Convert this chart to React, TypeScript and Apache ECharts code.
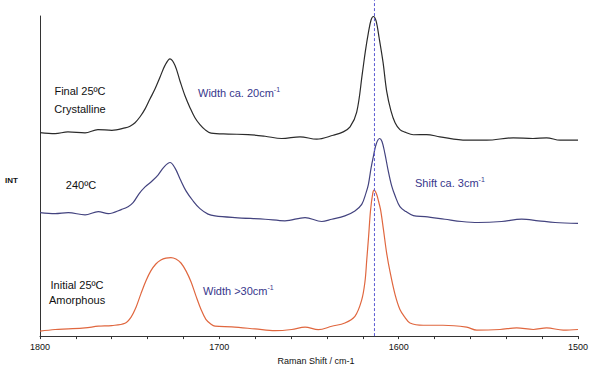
import React, { useEffect, useRef } from "react";
import * as echarts from "echarts";

// Raman shift (cm-1) and stacked intensity readings for each spectrum
const finalShift = [1800, 1791.6, 1784.4, 1774.9, 1767.7, 1759.9, 1752.6, 1749.8, 1747.0, 1744.2, 1741.4, 1738.7, 1735.9, 1733.1, 1730.3, 1727.5, 1724.7, 1721.9, 1719.1, 1716.3, 1713.6, 1710.8, 1708.0, 1704.6, 1695.0, 1684.0, 1674.5, 1665.2, 1655.0, 1645.7, 1636.5, 1630.9, 1627.1, 1623.4, 1620.2, 1618.6, 1616.9, 1615.4, 1614.1, 1612.6, 1610.9, 1608.7, 1606.7, 1604.3, 1602.0, 1599.3, 1596.5, 1591.8, 1584.4, 1577.0, 1562.1, 1550.9, 1536.1, 1525.1, 1517.5, 1510.0, 1500];
const finalInt = [206, 205, 206.7, 205.7, 209, 208.3, 210.7, 212.5, 216, 222, 230, 240, 250, 262, 274, 280.7, 274, 258, 243, 231, 221, 214, 209, 205.5, 204.5, 204, 202.3, 200, 201.7, 199.3, 203.3, 206.7, 211.7, 226.7, 266.7, 288, 307, 320, 323.5, 319, 302, 277, 248, 228, 216, 209, 206.5, 203.8, 204, 201.7, 198.3, 198.3, 200.7, 200, 200.7, 198.3, 198.3];

const hotShift = [1800, 1791.6, 1784.2, 1774.9, 1767.5, 1761.9, 1754.4, 1750.9, 1748.1, 1744.8, 1741.4, 1737.5, 1734.2, 1730.9, 1727.5, 1724.7, 1721.9, 1718.6, 1714.7, 1710.8, 1706.3, 1702.4, 1691.3, 1674.5, 1663.4, 1652.2, 1642.9, 1637.3, 1630.0, 1624.4, 1620.6, 1618.2, 1616.9, 1615.4, 1614.1, 1612.6, 1610.7, 1609.3, 1607.7, 1605.9, 1603.9, 1602.0, 1599.3, 1595.9, 1591.8, 1585.3, 1574.2, 1564.8, 1555.6, 1542.6, 1531.4, 1522.1, 1512.8, 1500];
const hotInt = [125, 124, 125, 122.7, 126, 124, 128.3, 131, 135, 144, 151, 157, 163, 171, 175.7, 170, 159, 147, 137, 129, 123.5, 121.7, 120, 118.3, 116.7, 120, 116, 118.3, 121.7, 126.7, 133.3, 145, 153.3, 170, 182, 194, 200, 197, 185, 168, 152, 142, 131, 126, 122, 121, 118.3, 116, 115, 116, 118.3, 116.7, 115, 114];

const initShift = [1800, 1791.6, 1784.2, 1774.9, 1767.5, 1760.0, 1752.6, 1749.3, 1746.5, 1743.7, 1740.9, 1738.2, 1735.4, 1732.6, 1729.8, 1727.0, 1724.2, 1721.4, 1718.6, 1715.8, 1713.1, 1710.2, 1707.5, 1704.6, 1702.4, 1693.1, 1680.1, 1668.9, 1659.6, 1652.2, 1644.8, 1637.3, 1630.0, 1624.4, 1620.6, 1618.8, 1617.8, 1616.8, 1615.7, 1614.5, 1613.7, 1612.4, 1611.3, 1610.1, 1608.5, 1606.7, 1604.8, 1602.0, 1599.3, 1596.5, 1593.7, 1586.3, 1575.3, 1562.1, 1556.5, 1543.5, 1534.2, 1524.9, 1517.5, 1508.2, 1500];
const initInt = [5, 6.7, 7.3, 8.3, 10, 10.7, 13, 19, 29, 43, 56, 66, 73, 77, 79, 79.5, 78, 74, 66, 55, 41, 27, 17, 12, 10, 9.3, 7.3, 5.5, 6.7, 9, 6.5, 10, 13.3, 20, 36.7, 55, 77, 100, 127, 144, 147.7, 144, 137, 128, 108, 84, 65, 42, 27, 19, 13.3, 11, 11, 9, 6, 6.7, 8.3, 6.7, 8.3, 6, 6.7];

const seriesNames = ["Final 25ºC Crystalline", "240ºC", "Initial 25ºC Amorphous"];
const referenceShift = 1613.5;
const referenceSpan = [0, 340];
const xTickLabels = [1800, 1700, 1600, 1500];

const FONT = "'Liberation Sans', Arial, sans-serif";
const BLUE_TEXT = "#37378c";

const zip = (xs: number[], ys: number[]) => xs.map((x, i) => [x, ys[i]]);

function supText(x: number, y: number, main: string, sup: string, color: string) {
  return {
    type: "text",
    x,
    y,
    style: {
      text: `{a|${main}}{s|${sup}}`,
      textAlign: "left",
      textVerticalAlign: "middle",
      rich: {
        a: { fontSize: 11, fontFamily: FONT, fill: color, lineHeight: 13, verticalAlign: "bottom" },
        s: { fontSize: 7, fontFamily: FONT, fill: color, lineHeight: 13, verticalAlign: "top" },
      },
    },
  };
}

function plainText(x: number, y: number, text: string) {
  return {
    type: "text",
    x,
    y,
    style: {
      text,
      fontSize: 11,
      fontFamily: FONT,
      fill: "#111111",
      textAlign: "center",
      textVerticalAlign: "middle",
    },
  };
}

export default function App() {
  const ref = useRef<HTMLDivElement>(null);
  useEffect(() => {
    if (!ref.current) return;
    const chart = echarts.init(ref.current, undefined, { renderer: "svg" });
    const lineCommon = {
      type: "line",
      showSymbol: false,
      smooth: 0.35,
    };
    chart.setOption({
      animation: false,
      backgroundColor: "#ffffff",
      grid: { left: 40, right: 22, top: 16, bottom: 30 },
      xAxis: {
        type: "value",
        inverse: true,
        min: 1500,
        max: 1800,
        interval: 20,
        name: "Raman Shift / cm-1",
        nameLocation: "middle",
        nameGap: 14,
        nameTextStyle: { fontSize: 9, fontFamily: FONT, color: "#111", padding: [0, 0, 0, 14] },
        axisLine: { lineStyle: { color: "#333", width: 1 } },
        axisTick: { show: true, length: 3, lineStyle: { color: "#333" } },
        splitLine: { show: false },
        axisLabel: {
          fontSize: 9,
          fontFamily: FONT,
          color: "#111",
          margin: 6,
          formatter: (v: number) => (xTickLabels.includes(v) ? String(v) : ""),
        },
      },
      yAxis: {
        type: "value",
        min: 0,
        max: 324,
        name: "INT",
        nameLocation: "middle",
        nameGap: 22,
        nameRotate: 0,
        nameTextStyle: { fontSize: 8, fontFamily: FONT, color: "#111", fontWeight: "bold", verticalAlign: "top" },
        axisLine: { show: true, lineStyle: { color: "#333", width: 1 } },
        axisTick: { show: false },
        axisLabel: { show: false },
        splitLine: { show: false },
      },
      series: [
        { ...lineCommon, name: seriesNames[0], data: zip(finalShift, finalInt), lineStyle: { color: "#2b2b2b", width: 1.2 } },
        { ...lineCommon, name: seriesNames[1], data: zip(hotShift, hotInt), lineStyle: { color: "#43437f", width: 1.2 } },
        { ...lineCommon, name: seriesNames[2], data: zip(initShift, initInt), lineStyle: { color: "#e0673f", width: 1.2 } },
        {
          type: "line",
          name: "reference",
          showSymbol: false,
          clip: false,
          data: referenceSpan.map((y) => [referenceShift, y]),
          lineStyle: { color: "#5a5ad2", width: 1, type: [3, 2] },
        },
      ],
      graphic: [
        plainText(80, 91, "Final 25ºC"),
        plainText(80, 109, "Crystalline"),
        plainText(81, 185, "240ºC"),
        plainText(77, 285, "Initial 25ºC"),
        plainText(77, 300, "Amorphous"),
        supText(198, 92, "Width ca. 20cm", "-1", BLUE_TEXT),
        supText(415, 182, "Shift ca. 3cm", "-1", BLUE_TEXT),
        supText(203, 290, "Width >30cm", "-1", BLUE_TEXT),
      ],
    });
    return () => chart.dispose();
  }, []);
  return (
    <div
      ref={ref}
      style={{ position: "fixed", left: 0, top: 0, width: 600, height: 370, background: "#fff" }}
    />
  );
}
